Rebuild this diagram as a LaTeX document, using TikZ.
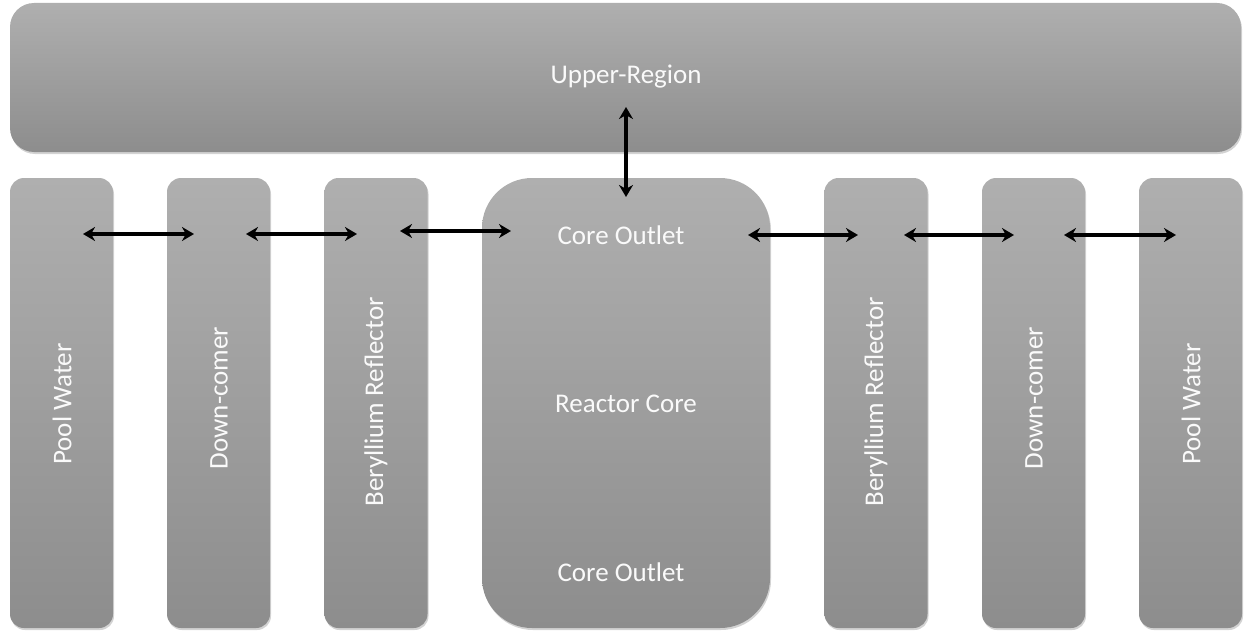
\documentclass[tikz,border=0pt]{standalone}
\usepackage{fontspec}
\setmainfont{Carlito}
\usetikzlibrary{shadows,arrows.meta}
\definecolor{boxtop}{RGB}{175,175,175}
\definecolor{boxbot}{RGB}{141,141,141}
\definecolor{txt}{RGB}{250,250,250}
\tikzset{
  box/.style={draw=none, inner sep=0pt, top color=boxtop, bottom color=boxbot,
    drop shadow={opacity=0.35, shadow xshift=1pt, shadow yshift=-2pt}},
  col/.style={box, rounded corners=14pt, minimum width=103pt, minimum height=450pt},
  lbl/.style={text=txt, font=\fontsize{27}{30}\selectfont, inner sep=0pt},
  vlbl/.style={lbl, rotate=90},
  link/.style={line width=3.2pt, {Stealth[length=12pt,width=14pt]}-{Stealth[length=12pt,width=14pt]}}
}
\begin{document}
\begin{tikzpicture}[x=1pt,y=-1pt]
\useasboundingbox (0,0) rectangle (1249,634);
% boxes
\node[box, rounded corners=24pt, minimum width=1231pt, minimum height=149pt] (upper) at (625.5,77.5) {};
\node[col] (poolL) at (61.5,403) {};
\node[col] (downL) at (218.5,403) {};
\node[col] (beL) at (376,403) {};
\node[box, rounded corners=50pt, minimum width=288pt, minimum height=450pt] (core) at (626,403) {};
\node[col] (beR) at (876,403) {};
\node[col] (downR) at (1033.5,403) {};
\node[col] (poolR) at (1190.5,403) {};
% labels
\node[lbl] (tupper) at (626,77) {Upper-Region};
\node[lbl] (tcoreout) at (621,235) {Core Outlet};
\node[lbl] (tcore) at (626,404) {Reactor Core};
\node[lbl] (tcorein) at (621,572) {Core Outlet};
\node[vlbl] (tpoolL) at (62,404) {Pool Water};
\node[vlbl] (tdownL) at (219,398) {Down-comer};
\node[vlbl] (tbeL) at (376,402) {Beryllium Reflector};
\node[vlbl] (tbeR) at (876,402) {Beryllium Reflector};
\node[vlbl] (tdownR) at (1034,398) {Down-comer};
\node[vlbl] (tpoolR) at (1191,404) {Pool Water};
% arrow end points
\coordinate (a1) at (83,234);   \coordinate (b1) at (194,234);
\coordinate (a2) at (246,234);  \coordinate (b2) at (357,234);
\coordinate (a3) at (400,231);  \coordinate (b3) at (511,231);
\coordinate (a4) at (748,235);  \coordinate (b4) at (858,235);
\coordinate (a5) at (904,235);  \coordinate (b5) at (1014,235);
\coordinate (a6) at (1064,235); \coordinate (b6) at (1176,235);
\coordinate (v1) at (626,107);  \coordinate (v2) at (626,197);
\draw[link] (a1) -- (b1);
\draw[link] (a2) -- (b2);
\draw[link] (a3) -- (b3);
\draw[link] (a4) -- (b4);
\draw[link] (a5) -- (b5);
\draw[link] (a6) -- (b6);
\draw[link] (v1) -- (v2);
\end{tikzpicture}
\end{document}
